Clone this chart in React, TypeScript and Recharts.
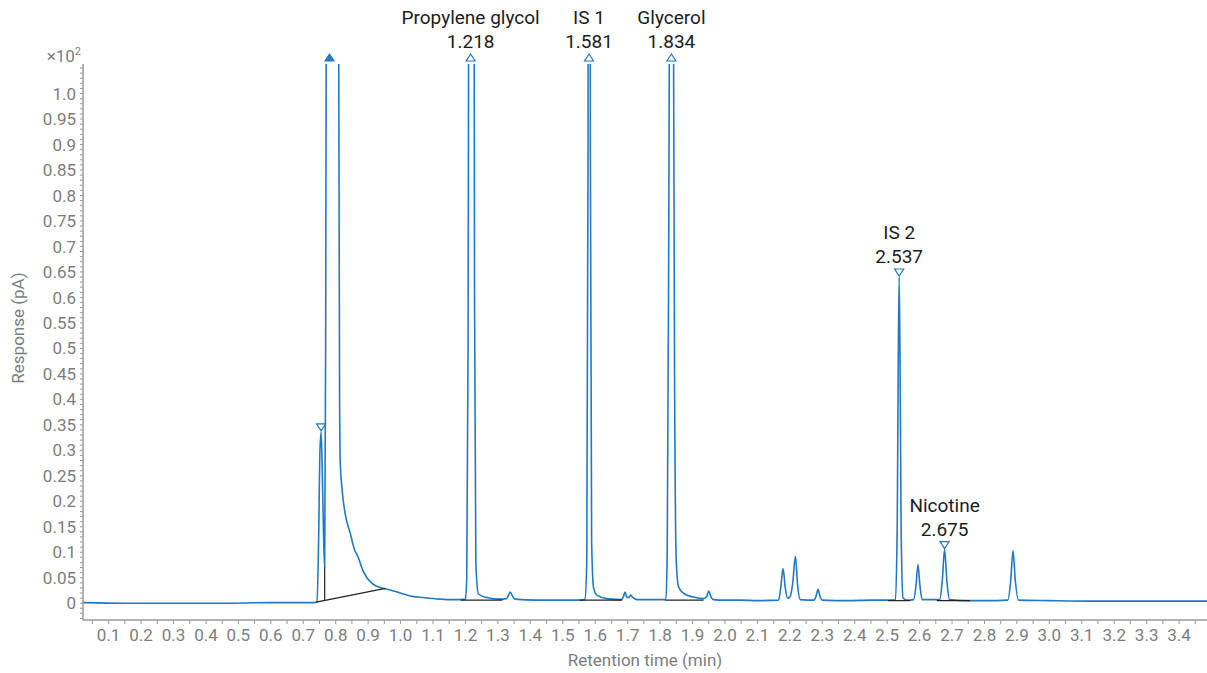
import { LineChart, Line, XAxis, YAxis, ReferenceLine, ReferenceDot } from "recharts";

// trace: [retention time (min), response (x10^2 pA)]
const earlyBaseline = [
  [0.021, 0.001], [0.15, 0.0], [0.3, 0.0], [0.45, 0.0], [0.6, 0.001], [0.735, 0.001],
];
const solventFront = [
  [0.742, 0.003], [0.748, 0.15], [0.751, 0.29], [0.755, 0.336], [0.759, 0.25], [0.763, 0.12],
  [0.766, 0.07], [0.769, 0.5], [0.771, 1.2], [0.79, 6], [0.809, 1.2], [0.812, 0.4],
  [0.814, 0.277], [0.819, 0.228], [0.829, 0.176], [0.845, 0.137], [0.858, 0.105], [0.868, 0.092],
  [0.886, 0.061], [0.912, 0.039], [0.948, 0.029], [0.962, 0.027], [0.999, 0.02], [1.03, 0.014],
  [1.07, 0.011], [1.12, 0.008], [1.17, 0.007],
];
const propyleneGlycol = [
  [1.2, 0.008], [1.204, 0.05], [1.208, 0.5], [1.218, 5], [1.228, 0.6], [1.232, 0.08],
  [1.24, 0.018], [1.266, 0.011], [1.307, 0.008], [1.326, 0.009], [1.333, 0.016], [1.338, 0.022],
  [1.344, 0.015], [1.352, 0.008], [1.42, 0.006], [1.5, 0.006], [1.56, 0.006],
];
const internalStd1 = [
  [1.568, 0.007], [1.574, 0.08], [1.578, 0.9], [1.581, 5], [1.585, 0.9], [1.589, 0.12],
  [1.595, 0.03], [1.605, 0.016], [1.636, 0.009], [1.68, 0.007], [1.687, 0.013], [1.692, 0.022],
  [1.697, 0.012], [1.703, 0.011], [1.709, 0.016], [1.715, 0.012], [1.729, 0.007], [1.78, 0.007],
  [1.818, 0.007],
];
const glycerol = [
  [1.822, 0.1], [1.826, 0.6], [1.829, 1.2], [1.835, 5], [1.841, 1.2], [1.845, 0.4],
  [1.85, 0.08], [1.857, 0.032], [1.873, 0.019], [1.903, 0.012], [1.934, 0.009], [1.943, 0.012],
  [1.95, 0.024], [1.957, 0.012], [1.965, 0.007], [1.996, 0.006],
];
const middlePeaks = [
  [2.05, 0.006], [2.1, 0.005], [2.165, 0.006], [2.172, 0.03], [2.179, 0.068], [2.186, 0.03],
  [2.193, 0.01], [2.2, 0.012], [2.209, 0.04], [2.217, 0.092], [2.224, 0.035], [2.232, 0.007],
  [2.275, 0.006], [2.281, 0.014], [2.287, 0.027], [2.293, 0.013], [2.3, 0.006], [2.38, 0.005],
  [2.45, 0.006], [2.52, 0.006],
];
const latePeaks = [
  [2.525, 0.007], [2.531, 0.15], [2.534, 0.45], [2.537, 0.64], [2.54, 0.45], [2.543, 0.15],
  [2.549, 0.01], [2.56, 0.006], [2.582, 0.007], [2.589, 0.035], [2.595, 0.076], [2.601, 0.035],
  [2.608, 0.007], [2.662, 0.007], [2.67, 0.045], [2.677, 0.105], [2.684, 0.045], [2.692, 0.007],
  [2.75, 0.005], [2.8, 0.005], [2.872, 0.006], [2.881, 0.045], [2.888, 0.103], [2.895, 0.045],
  [2.905, 0.006], [3.0, 0.005], [3.15, 0.004], [3.3, 0.004], [3.486, 0.004],
];

// integration baselines drawn in black
const baselines = [
  [[0.74, 0.002], [0.953, 0.029]],
  [[0.766, 0.005], [0.766, 0.07]],
  [[1.186, 0.006], [1.314, 0.006]],
  [[1.552, 0.006], [1.683, 0.006]],
  [[1.816, 0.006], [1.934, 0.006]],
  [[2.502, 0.005], [2.571, 0.005]],
  [[2.653, 0.005], [2.756, 0.005]],
];

const X_MIN = 0.021;
const X_MAX = 3.486;
const Y_MIN = -0.033;
const Y_TOP = 1.058;

// peak markers; offScale ones sit above the top of the plot
const peakMarkers = [
  { t: 0.781, resp: Y_TOP, name: "", rt: "", offScale: true, filled: true },
  { t: 0.755, resp: 0.336, name: "", rt: "", offScale: false, filled: false },
  { t: 1.216, resp: Y_TOP, name: "Propylene glycol", rt: "1.218", offScale: true, filled: false },
  { t: 1.581, resp: Y_TOP, name: "IS 1", rt: "1.581", offScale: true, filled: false },
  { t: 1.835, resp: Y_TOP, name: "Glycerol", rt: "1.834", offScale: true, filled: false },
  { t: 2.537, resp: 0.64, name: "IS 2", rt: "2.537", offScale: false, filled: false },
  { t: 2.677, resp: 0.105, name: "Nicotine", rt: "2.675", offScale: false, filled: false },
];

const xTicks = Array.from({ length: 69 }, (_, i) => (i + 1) * 5);
const yTicks = Array.from({ length: 109 }, (_, i) => i - 3);

const data = [
  ...earlyBaseline, ...solventFront, ...propyleneGlycol, ...internalStd1,
  ...glycerol, ...middlePeaks, ...latePeaks,
].map(([t, r]) => ({ t, r }));

const BLUE = "#2179c6";
const AXIS = "#9a9a9a";
const TICK_TEXT = "#7d7d7d";
const FONT = "Roboto, 'Noto Sans', sans-serif";

const XTick = ({ x, y, payload }: any) => {
  const hundredths = Math.round(payload.value * 100);
  if (hundredths % 10 !== 0) return <g />;
  return (
    <text x={x} y={y} dy="0.71em" textAnchor="middle" fill={TICK_TEXT} fontSize={17} fontFamily={FONT}>
      {(hundredths / 100).toFixed(1)}
    </text>
  );
};

const YTick = ({ x, y, payload }: any) => {
  const hundredths = Math.round(payload.value * 100);
  if (hundredths < 0 || hundredths > 100 || hundredths % 5 !== 0) return <g />;
  const label = hundredths === 0 ? "0" : hundredths % 10 === 0 ? (hundredths / 100).toFixed(1) : (hundredths / 100).toFixed(2);
  return (
    <text x={x} y={y} dy="0.36em" textAnchor="end" fill={TICK_TEXT} fontSize={17} fontFamily={FONT}>
      {label}
    </text>
  );
};

const Marker = ({ cx, cy, m }: any) => {
  if (cx == null || cy == null) return <g />;
  let top: number;
  let path: string;
  if (m.offScale) {
    top = cy - 10;
    path = `M${cx},${top} L${cx + 4.5},${cy - 3} L${cx - 4.5},${cy - 3} Z`;
  } else {
    top = cy - 8;
    path = `M${cx - 4.5},${top} L${cx + 4.5},${top} L${cx},${cy - 1} Z`;
  }
  return (
    <g>
      <path d={path} fill={m.filled ? BLUE : "#fff"} stroke={BLUE} strokeWidth={1.2} />
      {m.name && (
        <text x={cx} y={top - 37} dy="0.36em" textAnchor="middle" fill="#1c1c1c" fontSize={19} fontFamily={FONT}>
          {m.name}
        </text>
      )}
      {m.rt && (
        <text x={cx} y={top - 13} dy="0.36em" textAnchor="middle" fill="#1c1c1c" fontSize={19} fontFamily={FONT}>
          {m.rt}
        </text>
      )}
    </g>
  );
};

const YAxisLabel = ({ viewBox }: any) => {
  const { x, y, width, height } = viewBox;
  const cy = y + height / 2 - 14;
  return (
    <g>
      <text x={x + 18} y={cy} transform={`rotate(-90, ${x + 18}, ${cy})`} dy="0.36em" textAnchor="middle"
        fill={TICK_TEXT} fontSize={17} fontFamily={FONT}>
        Response (pA)
      </text>
      <text x={x + width - 2} y={y - 2} textAnchor="end" fill={TICK_TEXT} fontSize={17} fontFamily={FONT}>
        ×10<tspan fontSize={11} dy={-7}>2</tspan>
      </text>
    </g>
  );
};

export default function App() {
  return (
    <div style={{ position: "absolute", left: 0, top: 0, background: "#fff" }}>
      <LineChart width={1207} height={673} data={data} margin={{ top: 64, right: 0, bottom: 0, left: 0 }}>
        <XAxis
          dataKey="t"
          type="number"
          domain={[X_MIN, X_MAX]}
          allowDataOverflow
          ticks={xTicks.map((v) => v / 100)}
          interval={0}
          tick={<XTick />}
          tickSize={4}
          tickMargin={5}
          height={53}
          axisLine={{ stroke: AXIS, strokeWidth: 1.5 }}
          tickLine={{ stroke: AXIS }}
          label={{ value: "Retention time (min)", position: "insideBottom", offset: 7, fill: TICK_TEXT, fontSize: 17, fontFamily: FONT }}
        />
        <YAxis
          type="number"
          domain={[Y_MIN, Y_TOP]}
          allowDataOverflow
          ticks={yTicks.map((v) => v / 100)}
          interval={0}
          tick={<YTick />}
          tickSize={3}
          tickMargin={4}
          width={83}
          axisLine={{ stroke: AXIS, strokeWidth: 1.5 }}
          tickLine={{ stroke: AXIS }}
          label={<YAxisLabel />}
        />
        <Line
          type="monotone"
          dataKey="r"
          stroke={BLUE}
          strokeWidth={1.6}
          dot={false}
          isAnimationActive={false}
        />
        {baselines.map(([a, b], i) => (
          <ReferenceLine
            key={`base-${i}`}
            segment={[{ x: a[0], y: a[1] }, { x: b[0], y: b[1] }]}
            stroke="#222"
            strokeWidth={1.2}
            ifOverflow="visible"
          />
        ))}
        {peakMarkers.map((m, i) => (
          <ReferenceDot
            key={`mk-${i}`}
            x={m.t}
            y={m.resp}
            ifOverflow="visible"
            shape={(p: any) => <Marker {...p} m={m} />}
          />
        ))}
      </LineChart>
    </div>
  );
}
